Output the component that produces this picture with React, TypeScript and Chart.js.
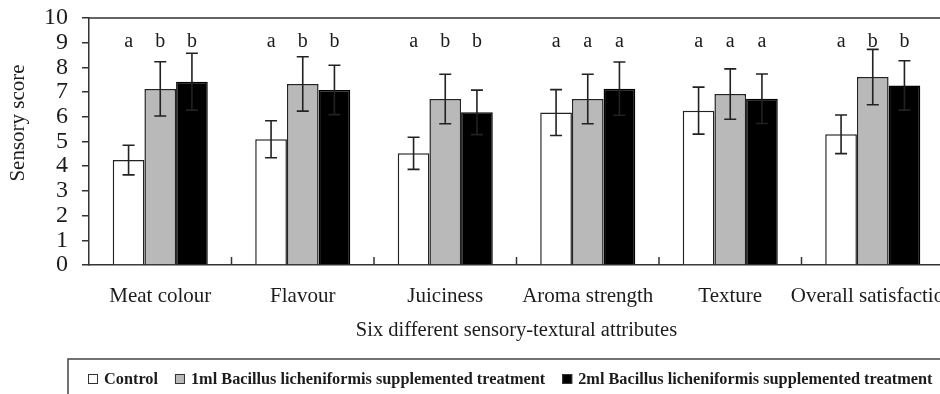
import React, { useEffect, useRef } from "react";
import { Chart, registerables } from "chart.js";

Chart.register(...registerables);

const categories = ["Meat colour", "Flavour", "Juiciness", "Aroma strength", "Texture", "Overall satisfaction"];
const seriesNames = [
  "Control",
  "1ml Bacillus licheniformis supplemented treatment",
  "2ml Bacillus licheniformis supplemented treatment",
];
const controlValues = [4.25, 5.09, 4.52, 6.17, 6.25, 5.29];
const controlErrors = [0.6, 0.75, 0.65, 0.93, 0.95, 0.78];
const ml1Values = [7.13, 7.33, 6.72, 6.72, 6.92, 7.61];
const ml1Errors = [1.1, 1.1, 1.0, 1.0, 1.02, 1.12];
const ml2Values = [7.42, 7.09, 6.18, 7.14, 6.73, 7.27];
const ml2Errors = [1.15, 1.0, 0.9, 1.08, 1.0, 1.0];
const controlLetters = ["a", "a", "a", "a", "a", "a"];
const ml1Letters = ["b", "b", "b", "a", "a", "b"];
const ml2Letters = ["b", "b", "b", "a", "a", "b"];
const letterLevel = 8.83;
const yTicks = [0, 1, 2, 3, 4, 5, 6, 7, 8, 9, 10];
const yTitle = "Sensory score";
const xTitle = "Six different sensory-textural attributes";

const SERIF = "'Liberation Serif', 'Times New Roman', serif";
const INK = "#1c1c1c";

const errorsAll = [controlErrors, ml1Errors, ml2Errors];
const valuesAll = [controlValues, ml1Values, ml2Values];
const lettersAll = [controlLetters, ml1Letters, ml2Letters];

const decorPlugin = {
  id: "decor",
  afterDatasetsDraw(chart: any) {
    const { ctx, chartArea } = chart;
    const y = chart.scales.y;
    const x = chart.scales.x;
    ctx.save();
    // frame (top & right)
    ctx.strokeStyle = "#333";
    ctx.lineWidth = 1.5;
    ctx.beginPath();
    ctx.moveTo(chartArea.left, chartArea.top);
    ctx.lineTo(chartArea.right, chartArea.top);
    ctx.lineTo(chartArea.right, chartArea.bottom);
    ctx.stroke();
    // category boundary ticks (inward)
    ctx.beginPath();
    for (let i = 1; i < categories.length; i++) {
      const px = x.getPixelForValue(i - 0.5);
      ctx.moveTo(px, chartArea.bottom);
      ctx.lineTo(px, chartArea.bottom - 8);
    }
    ctx.stroke();
    // error bars
    ctx.strokeStyle = "#222";
    ctx.lineWidth = 1.6;
    for (let d = 0; d < 3; d++) {
      const meta = chart.getDatasetMeta(d);
      meta.data.forEach((bar: any, i: number) => {
        const v = valuesAll[d][i];
        const e = errorsAll[d][i];
        const yt = y.getPixelForValue(v + e);
        const yb = y.getPixelForValue(v - e);
        ctx.beginPath();
        ctx.moveTo(bar.x, yt);
        ctx.lineTo(bar.x, yb);
        ctx.moveTo(bar.x - 6, yt);
        ctx.lineTo(bar.x + 6, yt);
        ctx.moveTo(bar.x - 6, yb);
        ctx.lineTo(bar.x + 6, yb);
        ctx.stroke();
      });
    }
    // significance letters
    ctx.fillStyle = INK;
    ctx.font = `20px ${SERIF}`;
    ctx.textAlign = "center";
    ctx.textBaseline = "alphabetic";
    for (let d = 0; d < 3; d++) {
      const meta = chart.getDatasetMeta(d);
      meta.data.forEach((bar: any, i: number) => {
        ctx.fillText(lettersAll[d][i], bar.x, y.getPixelForValue(letterLevel));
      });
    }
    // y title
    ctx.save();
    ctx.translate(chartArea.left - 70.5, chartArea.top + 105);
    ctx.rotate(-Math.PI / 2);
    ctx.font = `21px ${SERIF}`;
    ctx.textBaseline = "middle";
    ctx.fillText(yTitle, 0, 0);
    ctx.restore();
    // legend
    const boxLeft = chartArea.left - 21;
    const boxTop = chartArea.bottom + 94;
    ctx.strokeStyle = "#444";
    ctx.lineWidth = 1.5;
    ctx.strokeRect(boxLeft, boxTop, 1000, 60);
    ctx.font = `bold 16.3px ${SERIF}`;
    ctx.textAlign = "left";
    ctx.textBaseline = "middle";
    const cy = boxTop + 20;
    let cx = boxLeft + 20;
    chart.data.datasets.forEach((ds: any) => {
      ctx.fillStyle = ds.backgroundColor;
      ctx.fillRect(cx, cy - 5, 10, 10);
      ctx.strokeStyle = "#333";
      ctx.lineWidth = 1;
      ctx.strokeRect(cx + 0.5, cy - 4.5, 9, 9);
      cx += 16;
      ctx.fillStyle = INK;
      ctx.fillText(ds.label, cx, cy + 1);
      cx += ctx.measureText(ds.label).width + 17;
    });
    ctx.restore();
  },
};

export default function App() {
  const ref = useRef<HTMLCanvasElement | null>(null);
  useEffect(() => {
    if (!ref.current) return;
    Chart.defaults.font.family = SERIF;
    Chart.defaults.color = INK;
    const chart = new Chart(ref.current, {
      type: "bar",
      data: {
        labels: categories,
        datasets: [
          { label: seriesNames[0], data: controlValues, backgroundColor: "#ffffff", borderColor: "#222", borderWidth: 1.5 },
          { label: seriesNames[1], data: ml1Values, backgroundColor: "#b9b9b9", borderColor: "#222", borderWidth: 1.5 },
          { label: seriesNames[2], data: ml2Values, backgroundColor: "#000000", borderColor: "#000", borderWidth: 1.5 },
        ],
      },
      options: {
        animation: false,
        responsive: true,
        maintainAspectRatio: false,
        datasets: { bar: { barPercentage: 1, categoryPercentage: 0.667 } },
        layout: { padding: { left: 0, top: 18, right: 36, bottom: 49 } },
        plugins: { legend: { display: false }, tooltip: { enabled: false }, title: { display: false } },
        scales: {
          x: {
            grid: { display: false, drawTicks: false },
            border: { display: true, color: "#333", width: 1.5 },
            ticks: { font: { size: 21 }, padding: 19, maxRotation: 0, minRotation: 0, autoSkip: false, color: INK },
            title: { display: true, text: xTitle, font: { size: 20.5 }, padding: { top: 0, bottom: 2 }, color: INK },
            afterFit: (s: any) => { s.height = 80; s.paddingLeft = 0; s.paddingRight = 0; },
          },
          y: {
            min: 0,
            max: 10,
            afterBuildTicks: (s: any) => { s.ticks = yTicks.map((v) => ({ value: v })); },
            grid: { drawOnChartArea: false, drawTicks: true, tickLength: 7, color: "#333", lineWidth: 1.5 },
            border: { display: true, color: "#333", width: 1.5 },
            ticks: { font: { size: 24 }, padding: 14, color: INK, autoSkip: false, stepSize: 1 },
            afterFit: (s: any) => { s.width = 89; s.paddingTop = 0; s.paddingBottom = 0; },
          },
        },
      },
      plugins: [decorPlugin],
    });
    return () => chart.destroy();
  }, []);
  return (
    <div style={{ position: "fixed", left: 0, top: 0, width: 940, height: 394, overflow: "hidden", background: "#fff" }}>
      <div style={{ position: "relative", width: 980, height: 394 }}>
        <canvas ref={ref} />
      </div>
    </div>
  );
}
